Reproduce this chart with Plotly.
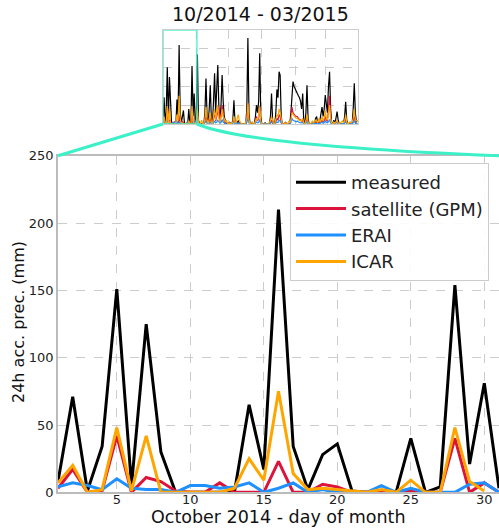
import plotly.graph_objects as go

# ---------------- data ----------------
days_oct = list(range(1, 32))
measured_oct = [8, 71, 1, 34, 151, 5, 125, 30, 0, 0, 0, 0, 0, 65, 17, 210, 34, 2, 28, 36,
                1, 0, 0, 0, 40, 0, 4, 154, 21, 81, 3]
satellite_oct = [3, 17, 0, 1, 42, 0, 11, 8, 1, 0, 0, 7, 0, 0, 0, 23, 0, 0, 6, 4,
                 0, 0, 0, 0, 1, 0, 0, 40, 0, 7, 0]
erai_oct = [4, 7, 5, 2, 10, 3, 2, 2, 0, 5, 5, 3, 4, 7, 0, 3, 7, 0, 2, 0,
            0, 0, 5, 0, 3, 0, 0, 0, 6, 7, 0]
icar_oct = [7, 20, 0, 2, 48, 1, 42, 0, 0, 0, 0, 0, 3, 25, 9, 75, 14, 2, 3, 2,
            1, 0, 2, 0, 9, 0, 0, 48, 8, 1, None]

# Nov 2014 - Mar 2015 (days 32..182 counted from 1 Oct 2014)
measured_rest = [15, 185, 10, 0, 0, 2, 0, 0, 30, 121, 20, 0, 40, 103, 10, 0, 60, 135, 30, 80,
                 157, 40, 10, 50, 130, 60, 20, 8, 0, 0,
                 0, 5, 0, 0, 10, 63, 5, 0, 3, 8, 2, 0, 0, 0, 0, 0, 0, 40, 229, 30,
                 0, 0, 5, 0, 0, 20, 50, 30, 60, 188, 20,
                 0, 0, 0, 3, 0, 0, 0, 0, 20, 81, 10, 0, 0, 30, 92, 70, 139, 130, 20, 0,
                 0, 0, 5, 0, 0, 0, 0, 30, 85, 113, 100,
                 95, 90, 81, 75, 70, 60, 40, 81, 5, 0, 30, 103, 15, 0, 0, 0, 0, 5, 0, 15,
                 20, 0, 3, 10, 30, 45, 20, 40,
                 77, 50, 30, 100, 139, 40, 0, 0, 10, 0, 20, 33, 10, 0, 0, 0, 0, 0, 20, 59,
                 10, 0, 0, 5, 0, 0, 40, 108, 30, 5, 10]
satellite_rest = [5, 30, 3, 0, 0, 0, 0, 0, 8, 20, 5, 0, 8, 15, 2, 0, 15, 30, 8, 20,
                  35, 45, 5, 20, 50, 25, 5, 0, 0, 0,
                  0, 0, 0, 0, 3, 10, 2, 0, 0, 0, 0, 0, 0, 0, 0, 0, 0, 10, 55, 8,
                  0, 0, 0, 0, 0, 5, 20, 8, 15, 48, 5,
                  0, 0, 0, 0, 0, 0, 0, 0, 3, 10, 2, 0, 0, 5, 15, 10, 25, 20, 3, 0,
                  0, 0, 0, 0, 0, 0, 0, 10, 45, 30, 25,
                  22, 20, 20, 15, 12, 10, 8, 10, 0, 0, 5, 15, 3, 0, 0, 0, 0, 0, 0, 3,
                  5, 0, 0, 3, 5, 10, 5, 8,
                  20, 10, 8, 40, 75, 20, 0, 0, 0, 0, 3, 5, 2, 0, 0, 0, 0, 0, 5, 15,
                  2, 0, 0, 0, 0, 0, 8, 20, 5, 0, 2]
erai_rest = [3, 10, 2, 0, 0, 1, 0, 0, 3, 8, 2, 0, 2, 5, 1, 0, 3, 8, 3, 5,
             10, 6, 2, 4, 12, 5, 2, 1, 0, 0,
             0, 1, 0, 0, 2, 5, 1, 0, 2, 3, 1, 0, 0, 0, 0, 0, 1, 4, 15, 3,
             0, 0, 1, 0, 0, 2, 5, 3, 4, 12, 2,
             0, 0, 0, 1, 0, 0, 0, 1, 2, 5, 1, 0, 0, 3, 5, 4, 10, 8, 2, 0,
             0, 0, 1, 0, 0, 1, 0, 4, 15, 10, 8,
             7, 6, 8, 5, 4, 3, 3, 4, 1, 0, 2, 6, 1, 0, 0, 0, 1, 1, 1, 2,
             2, 0, 1, 1, 3, 5, 2, 3,
             8, 4, 3, 6, 12, 3, 0, 0, 1, 0, 2, 4, 1, 0, 0, 1, 1, 0, 2, 6,
             1, 0, 0, 1, 0, 1, 3, 10, 2, 1, 1]
icar_rest = [10, 40, 5, 0, 3, 10, 2, 0, 15, 45, 10, 0, 12, 30, 5, 0, 20, 40, 10, 25,
             50, 15, 5, 20, 40, 20, 15, 5, 10, 3,
             0, 3, 0, 2, 5, 20, 5, 3, 15, 25, 10, 3, 0, 0, 0, 0, 5, 15, 55, 10,
             0, 3, 5, 0, 0, 8, 15, 10, 20, 47, 8,
             0, 0, 0, 2, 0, 0, 0, 5, 8, 20, 5, 0, 0, 10, 25, 20, 40, 30, 8, 0,
             0, 0, 3, 0, 0, 8, 3, 10, 30, 25, 20,
             18, 15, 15, 12, 10, 8, 10, 15, 3, 0, 8, 25, 5, 0, 0, 3, 8, 3, 5, 10,
             8, 3, 15, 5, 10, 20, 8, 15,
             35, 15, 10, 30, 50, 15, 3, 0, 5, 2, 8, 10, 3, 0, 3, 5, 8, 3, 8, 25,
             5, 0, 2, 5, 3, 5, 15, 40, 10, 10, 5]

series_names = ["measured", "satellite (GPM)", "ERAI", "ICAR"]
series_colors = ["#000000", "#DC143C", "#1E90FF", "#FFA500"]
month_starts = [1, 32, 62, 93, 124, 152]
main_ticks = [5, 10, 15, 20, 25, 30]
y_ticks = [0, 50, 100, 150, 200, 250]

# ---------------- figure ----------------
W, H = 499, 528
main_dom_x = [58 / W, 1.0]
main_dom_y = [1 - 492.3 / H, 1 - 155.8 / H]
ins_dom_x = [163 / W, 357.5 / W]
ins_dom_y = [1 - 124 / H, 1 - 30 / H]
ins_range = [1, 182]
zoom_box = [1, 32.5]

fig = go.Figure()

oct_series = [measured_oct, satellite_oct, erai_oct, icar_oct]
rest_series = [measured_rest, satellite_rest, erai_rest, icar_rest]
all_days = list(range(1, 32 + len(measured_rest)))

for name, col, vals in zip(series_names, series_colors, oct_series):
    fig.add_trace(go.Scatter(x=days_oct, y=vals, mode="lines", name=name,
                             line=dict(color=col, width=3), legendgroup=name,
                             xaxis="x", yaxis="y"))

for name, col, v1, v2 in zip(series_names, series_colors, oct_series, rest_series):
    vals = [v if v is not None else 0 for v in v1] + v2
    fig.add_trace(go.Scatter(x=all_days, y=vals, mode="lines", showlegend=False,
                             line=dict(color=col, width=1.2),
                             xaxis="x2", yaxis="y2"))

grid = dict(showgrid=True, gridcolor="#cccccc", griddash="dash", gridwidth=1)

fig.update_layout(
    width=W, height=H,
    margin=dict(l=0, r=0, t=0, b=0),
    paper_bgcolor="white", plot_bgcolor="white",
    font=dict(family="DejaVu Sans", color="#222222"),
    showlegend=True,
    legend=dict(x=290 / W, y=1 - 163 / H, xanchor="left", yanchor="top",
                font=dict(size=18, color="#222222"), itemwidth=50,
                bgcolor="rgba(255,255,255,0.9)", bordercolor="#cccccc", borderwidth=1,
                traceorder="grouped", tracegroupgap=0),
    xaxis=dict(domain=main_dom_x, range=[1, 31], tickvals=main_ticks,
               tickfont=dict(size=13, color="#222222"), ticks="", ticklen=0,
               ticklabelstandoff=-6,
               showline=True, linecolor="#bbbbbb", linewidth=1.5, mirror=True,
               zeroline=False, anchor="y", automargin=False, **grid),
    yaxis=dict(domain=main_dom_y, range=[0, 250], tickvals=y_ticks,
               tickfont=dict(size=13, color="#222222"), ticks="",
               showline=True, linecolor="#bbbbbb", linewidth=1.5, mirror=True,
               zeroline=False, anchor="x", automargin=False, **grid),
    xaxis2=dict(domain=ins_dom_x, range=ins_range, tickvals=month_starts,
                showticklabels=False, ticks="",
                showline=True, linecolor="#cccccc", linewidth=1, mirror=True,
                zeroline=False, anchor="y2", automargin=False, **grid),
    yaxis2=dict(domain=ins_dom_y, range=[0, 250], tickvals=[50, 100, 150, 200],
                showticklabels=False, ticks="",
                showline=True, linecolor="#cccccc", linewidth=1, mirror=True,
                zeroline=False, anchor="x2", automargin=False, **grid),
)

# zoom rectangle in inset
fig.add_shape(type="rect", xref="x2", yref="y2", x0=zoom_box[0], x1=zoom_box[1],
              y0=0, y1=250, line=dict(color="rgba(64,240,200,0.65)", width=2))


def ins_px(day, val):
    fx = ins_dom_x[0] + (day - ins_range[0]) / (ins_range[1] - ins_range[0]) * (ins_dom_x[1] - ins_dom_x[0])
    fy = ins_dom_y[0] + val / 250 * (ins_dom_y[1] - ins_dom_y[0])
    return fx, fy


lx0, ly0 = ins_px(zoom_box[0], 0)
rx0, ry0 = ins_px(zoom_box[1], 0)
lx1, ly1 = main_dom_x[0], main_dom_y[1]
rx1, ry1 = main_dom_x[1], main_dom_y[1]
conn = "#3CF0C8"
fig.add_shape(type="line", xref="paper", yref="paper", x0=lx0, y0=ly0, x1=lx1, y1=ly1,
              line=dict(color=conn, width=3))
cx, cy = 250 / W, 1 - 146 / H
fig.add_shape(type="path", xref="paper", yref="paper",
              path=f"M {rx0},{ry0} Q {cx},{cy} {rx1},{ry1}",
              line=dict(color=conn, width=3))

fig.add_annotation(text="10/2014 - 03/2015", xref="paper", yref="paper",
                   x=260 / W, y=1 - 14 / H, showarrow=False,
                   font=dict(size=19, color="#111111"), xanchor="center", yanchor="middle")
fig.add_annotation(text="24h acc. prec. (mm)", xref="paper", yref="paper",
                   x=18 / W, y=1 - 322 / H, showarrow=False, textangle=-90,
                   font=dict(size=16, color="#111111"), xanchor="center", yanchor="middle")
fig.add_annotation(text="October 2014 - day of month", xref="paper", yref="paper",
                   x=278 / W, y=0, showarrow=False, borderpad=0,
                   font=dict(size=17.5, color="#111111"), xanchor="center", yanchor="bottom")

fig.write_html("out.html")
